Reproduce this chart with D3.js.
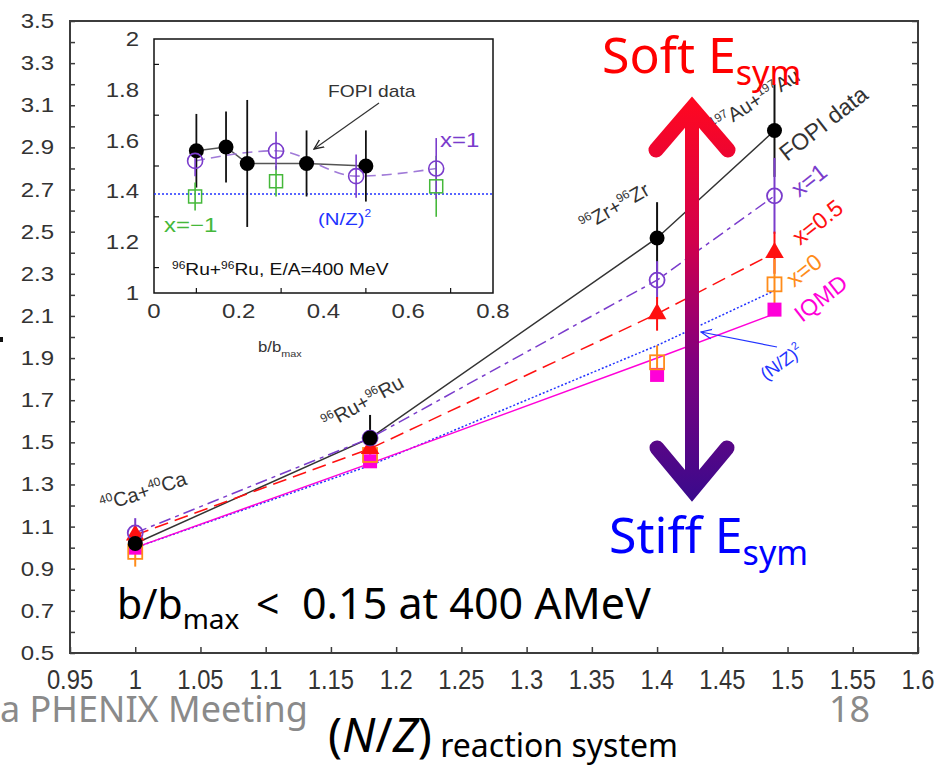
<!DOCTYPE html>
<html>
<head>
<meta charset="utf-8">
<script src="https://cdn.jsdelivr.net/npm/d3@7"></script>
<style>
  body { margin: 0; background: #fff; }
  svg { display: block; }
  text { font-family: "Liberation Sans", Arial, sans-serif; }
  .slide { font-family: "Noto Sans", "Open Sans", sans-serif; }
</style>
</head>
<body>
<script>
var svg, main, inset, x, y, ix, iy, defs, grad;

// main panel: four reaction systems
var systems = ['Ca', 'Ru', 'Zr', 'Au'];
var nzValues = [1.0, 1.18, 1.4, 1.49];
var fopiRatio = [1.02, 1.52, 2.47, 2.98];
var fopiErr = [0.02, 0.11, 0.17, 0.22];
var x1Ratio = [1.07, 1.52, 2.27, 2.67];
var x1Err = [0.07, 0.03, 0.09, 0.18];
var x05Ratio = [1.06, 1.47, 2.11, 2.40];
var x05Err = [0.03, 0.03, 0.08, 0.10];
var x0Ratio = [0.98, 1.44, 1.88, 2.25];
var x0Err = [0.07, 0.06, 0.08, 0.12];
var iqmdRatio = [1.00, 1.41, 1.82, 2.13];
var iqmdLine = [1.00, 1.40, 1.90, 2.11];
var nzSquared = [1.00, 1.39, 1.96, 2.22];

var yTicks = [0.5, 0.7, 0.9, 1.1, 1.3, 1.5, 1.7, 1.9, 2.1, 2.3, 2.5, 2.7, 2.9, 3.1, 3.3, 3.5];
var xTicks = [0.95, 1, 1.05, 1.1, 1.15, 1.2, 1.25, 1.3, 1.35, 1.4, 1.45, 1.5, 1.55, 1.6];

// inset: Ru+Ru vs b/bmax
var fopiB = [0.10, 0.17, 0.22, 0.36, 0.50];
var fopiBRatio = [1.56, 1.575, 1.51, 1.51, 1.50];
var fopiBErr = [0.145, 0.14, 0.25, 0.13, 0.14];
var x1B = [0.097, 0.288, 0.477, 0.666];
var x1BRatio = [1.52, 1.56, 1.46, 1.49];
var x1BErr = [0.06, 0.075, 0.085, 0.12];
var xm1B = [0.097, 0.288, 0.666];
var xm1BRatio = [1.38, 1.44, 1.42];
var xm1BErr = [0.055, 0.06, 0.12];
var nzSqInset = 1.39;
var insetYTicks = [1, 1.2, 1.4, 1.6, 1.8, 2];
var insetXTicks = [0, 0.2, 0.4, 0.6, 0.8];

var COLORS = {
  fopi: '#111',
  x1: '#7a3ccc',
  x05: '#ff1010',
  x0: '#ff8c1a',
  iqmd: '#ff00d8',
  nz: '#2233ff',
  xm1: '#45b83a'
};

function fmt(v) {
  return String(+v.toFixed(2));
}

function zip(xs, ys, es) {
  return xs.map(function(d, i) {
    return { x: d, y: ys[i], e: es ? es[i] : 0 };
  });
}

// text with sup (1) / sub (-1) parts
function rich(sel, parts, size, small, up, down) {
  var cur = 0;
  parts.forEach(function(p) {
    var mode = p[1] || 0;
    var target = mode === 1 ? -up : (mode === -1 ? down : 0);
    sel.append('tspan')
      .attr('dy', target - cur)
      .attr('font-size', mode ? small : size)
      .attr('font-style', p[2] || null)
      .text(p[0]);
    cur = target;
  });
  return sel;
}

svg = d3.select('body').append('svg')
  .attr('width', 936)
  .attr('height', 765);

svg.append('rect').attr('width', 936).attr('height', 765).attr('fill', '#fff');

defs = svg.append('defs');
grad = defs.append('linearGradient')
  .attr('id', 'arrowGrad')
  .attr('gradientUnits', 'userSpaceOnUse')
  .attr('x1', 0).attr('y1', 100)
  .attr('x2', 0).attr('y2', 500);
[['0', '#ff0820'], ['0.35', '#d2004c'], ['0.65', '#82007e'], ['1', '#3a0a8c']].forEach(function(s) {
  grad.append('stop').attr('offset', s[0]).attr('stop-color', s[1]);
});
defs.append('marker')
  .attr('id', 'arrBlack')
  .attr('viewBox', '0 0 10 10')
  .attr('refX', 9).attr('refY', 5)
  .attr('markerWidth', 9).attr('markerHeight', 9)
  .attr('orient', 'auto')
  .append('path').attr('d', 'M0,1 L9,5 L0,9').attr('fill', 'none').attr('stroke', '#222').attr('stroke-width', 1.2);
defs.append('marker')
  .attr('id', 'arrBlue')
  .attr('viewBox', '0 0 10 10')
  .attr('refX', 9).attr('refY', 5)
  .attr('markerWidth', 10).attr('markerHeight', 10)
  .attr('orient', 'auto')
  .append('path').attr('d', 'M0,1 L9,5 L0,9').attr('fill', 'none').attr('stroke', COLORS.nz).attr('stroke-width', 1);

x = d3.scaleLinear().domain([0.95, 1.6]).range([70, 918]);
y = d3.scaleLinear().domain([0.5, 3.5]).range([653, 21]);

main = svg.append('g').attr('class', 'main');

// frame
main.append('rect')
  .attr('x', x(0.95)).attr('y', y(3.5))
  .attr('width', x(1.6) - x(0.95)).attr('height', y(0.5) - y(3.5))
  .attr('fill', 'none').attr('stroke', '#3c3c3c').attr('stroke-width', 2);

// inward ticks
main.append('g')
  .attr('transform', 'translate(' + x(0.95) + ',0)')
  .call(d3.axisRight(y).ticks(30).tickSize(5).tickFormat(''))
  .call(function(g) { g.select('.domain').remove(); g.selectAll('line').attr('stroke', '#3c3c3c').attr('stroke-width', 1.5); });
main.append('g')
  .attr('transform', 'translate(' + x(1.6) + ',0)')
  .call(d3.axisLeft(y).ticks(30).tickSize(6).tickFormat(''))
  .call(function(g) { g.select('.domain').remove(); g.selectAll('line').attr('stroke', '#3c3c3c').attr('stroke-width', 1.5); });
main.append('g')
  .attr('transform', 'translate(0,' + y(0.5) + ')')
  .call(d3.axisTop(x).tickValues(xTicks).tickSize(6).tickFormat(''))
  .call(function(g) { g.select('.domain').remove(); g.selectAll('line').attr('stroke', '#3c3c3c').attr('stroke-width', 1.5); });

// tick labels
main.selectAll('.ylab')
  .data(yTicks)
  .enter().append('text')
  .attr('class', 'ylab')
  .attr('transform', function(d) { return 'translate(54,' + (y(d) + 7) + ') scale(1.2,1)'; })
  .attr('text-anchor', 'end')
  .attr('font-size', 20)
  .attr('fill', '#333')
  .text(fmt);

main.selectAll('.xlab')
  .data(xTicks)
  .enter().append('text')
  .attr('class', 'xlab')
  .attr('transform', function(d) { return 'translate(' + x(d) + ',689) scale(0.88,1)'; })
  .attr('text-anchor', 'middle')
  .attr('font-size', 27)
  .attr('fill', '#333')
  .text(fmt);

// series lines
var line = d3.line()
  .x(function(d) { return x(d.x); })
  .y(function(d) { return y(d.y); });

var lineSeries = [
  { vals: fopiRatio, color: '#333', dash: null, w: 1.5 },
  { vals: x1Ratio, color: COLORS.x1, dash: '12,5,4,5', w: 1.5 },
  { vals: x05Ratio, color: COLORS.x05, dash: '14,7', w: 1.5 },
  { vals: nzSquared, color: COLORS.nz, dash: '2,2', w: 1.5 },
  { vals: iqmdLine, color: COLORS.iqmd, dash: null, w: 1.5 }
];

main.selectAll('.series')
  .data(lineSeries)
  .enter().append('path')
  .attr('class', 'series')
  .attr('d', function(d) { return line(zip(nzValues, d.vals)); })
  .attr('fill', 'none')
  .attr('stroke', function(d) { return d.color; })
  .attr('stroke-width', function(d) { return d.w; })
  .attr('stroke-dasharray', function(d) { return d.dash; });

// error bars
function errBars(g, pts, sx, sy, color, w) {
  g.selectAll(null)
    .data(pts.filter(function(d) { return d.e > 0; }))
    .enter().append('line')
    .attr('x1', function(d) { return sx(d.x); })
    .attr('x2', function(d) { return sx(d.x); })
    .attr('y1', function(d) { return sy(d.y + d.e); })
    .attr('y2', function(d) { return sy(d.y - d.e); })
    .attr('stroke', color)
    .attr('stroke-width', w);
}

var fopiPts = zip(nzValues, fopiRatio, fopiErr);
var x1Pts = zip(nzValues, x1Ratio, x1Err);
var x05Pts = zip(nzValues, x05Ratio, x05Err);
var x0Pts = zip(nzValues, x0Ratio, x0Err);
var iqmdPts = zip(nzValues, iqmdRatio);

errBars(main, fopiPts, x, y, '#111', 2);
errBars(main, x1Pts, x, y, COLORS.x1, 2);
errBars(main, x05Pts, x, y, COLORS.x05, 2);
errBars(main, x0Pts, x, y, COLORS.x0, 2);

// markers
main.selectAll('.iqmd')
  .data(iqmdPts).enter().append('rect')
  .attr('x', function(d) { return x(d.x) - 7; })
  .attr('y', function(d) { return y(d.y) - 7; })
  .attr('width', 14).attr('height', 14)
  .attr('fill', COLORS.iqmd);
main.selectAll('.x0')
  .data(x0Pts).enter().append('rect')
  .attr('x', function(d) { return x(d.x) - 7; })
  .attr('y', function(d) { return y(d.y) - 7; })
  .attr('width', 14).attr('height', 14)
  .attr('fill', 'none').attr('stroke', COLORS.x0).attr('stroke-width', 1.8);
main.selectAll('.x05')
  .data(x05Pts).enter().append('path')
  .attr('transform', function(d) { return 'translate(' + x(d.x) + ',' + y(d.y) + ')'; })
  .attr('d', d3.symbol().type(d3.symbolTriangle).size(150))
  .attr('fill', COLORS.x05);
main.selectAll('.x1')
  .data(x1Pts).enter().append('circle')
  .attr('cx', function(d) { return x(d.x); })
  .attr('cy', function(d) { return y(d.y); })
  .attr('r', 7.5)
  .attr('fill', 'none').attr('stroke', COLORS.x1).attr('stroke-width', 1.8);
main.selectAll('.fopi')
  .data(fopiPts).enter().append('circle')
  .attr('cx', function(d) { return x(d.x); })
  .attr('cy', function(d) { return y(d.y); })
  .attr('r', 7.5)
  .attr('fill', '#000');

// reaction system labels
var reacLabels = [
  { at: [103, 512], rot: -18, parts: [['40', 1], ['Ca+'], ['40', 1], ['Ca']] },
  { at: [327, 430], rot: -29, parts: [['96', 1], ['Ru+'], ['96', 1], ['Ru']] },
  { at: [585, 232], rot: -30, parts: [['96', 1], ['Zr+'], ['96', 1], ['Zr']] },
  { at: [716, 133], rot: -32, parts: [['197', 1], ['Au+'], ['197', 1], ['Au']] }
];
reacLabels.forEach(function(l) {
  rich(main.append('text')
    .attr('transform', 'translate(' + l.at[0] + ',' + l.at[1] + ') rotate(' + l.rot + ')')
    .attr('fill', '#333'), l.parts, 20, 12, 8, 0);
});

// series labels on the right
var sideLabels = [
  { text: 'FOPI data', at: [787, 162], color: '#333', size: 23 },
  { text: 'x=1', at: [799, 198], color: COLORS.x1, size: 23 },
  { text: 'x=0.5', at: [800, 246], color: COLORS.x05, size: 23 },
  { text: 'x=0', at: [794, 288], color: COLORS.x0, size: 23 },
  { text: 'IQMD', at: [802, 323], color: COLORS.iqmd, size: 23 }
];
sideLabels.forEach(function(l) {
  main.append('text')
    .attr('transform', 'translate(' + l.at[0] + ',' + l.at[1] + ') rotate(-38)')
    .attr('fill', l.color)
    .attr('font-size', l.size)
    .text(l.text);
});
rich(main.append('text')
  .attr('transform', 'translate(766,381) rotate(-36)')
  .attr('fill', COLORS.nz), [['(N/Z)'], ['2', 1]], 18, 11, 8, 0);
main.append('line')
  .attr('x1', 777).attr('y1', 347).attr('x2', 701).attr('y2', 332)
  .attr('stroke', COLORS.nz).attr('stroke-width', 1.2)
  .attr('marker-end', 'url(#arrBlue)');

// big soft/stiff arrow
var arrow = svg.append('g').attr('class', 'arrow')
  .attr('stroke', 'url(#arrowGrad)').attr('fill', 'none');
arrow.append('line')
  .attr('x1', 692).attr('y1', 116).attr('x2', 692).attr('y2', 484)
  .attr('stroke-width', 14);
arrow.append('path')
  .attr('d', 'M656,150 L692,108 L728,150')
  .attr('stroke-width', 15).attr('stroke-linecap', 'round').attr('stroke-linejoin', 'miter');
arrow.append('path')
  .attr('d', 'M657,448 L692,490 L727,448')
  .attr('stroke-width', 15).attr('stroke-linecap', 'round').attr('stroke-linejoin', 'miter');

rich(svg.append('text').attr('class', 'slide')
  .attr('x', 602).attr('y', 73).attr('fill', '#ff0000'),
  [['Soft E'], ['sym', -1]], 50, 34, 0, 12);
rich(svg.append('text').attr('class', 'slide')
  .attr('x', 609).attr('y', 553).attr('fill', '#0000ff'),
  [['Stiff E'], ['sym', -1]], 50, 34, 0, 12);

// b/bmax condition, pieces placed at their own x
var cond = svg.append('text').attr('class', 'slide').attr('y', 619).attr('fill', '#000');
cond.append('tspan').attr('x', 117).attr('font-size', 41).text('b/b');
cond.append('tspan').attr('dy', 10).attr('font-size', 28).text('max');
cond.append('tspan').attr('x', 256).attr('dy', -10).attr('font-size', 41).text('<');
cond.append('tspan').attr('x', 302).attr('font-size', 43).text('0.15 at 400 AMeV');

// footer
svg.append('text').attr('class', 'slide')
  .attr('x', 0).attr('y', 722)
  .attr('font-size', 36).attr('fill', '#8a8a8a')
  .text('a PHENIX Meeting');
svg.append('text').attr('class', 'slide')
  .attr('x', 829).attr('y', 722)
  .attr('font-size', 36).attr('fill', '#8a8a8a')
  .text('18');
rich(svg.append('text').attr('class', 'slide')
  .attr('x', 328).attr('y', 752).attr('fill', '#000'),
  [['('], ['N', 0, 'italic'], ['/'], ['Z', 0, 'italic'], [')'], [' reaction system', -1]], 47, 32, 0, 5);

// clipped y-title remnant
svg.append('rect').attr('x', 0).attr('y', 337).attr('width', 3).attr('height', 5).attr('fill', '#111');

// ---------- inset ----------
ix = d3.scaleLinear().domain([0, 0.8]).range([154, 493]);
iy = d3.scaleLinear().domain([1, 2]).range([293, 39]);
inset = svg.append('g').attr('class', 'inset');

inset.append('rect')
  .attr('x', ix(0)).attr('y', iy(2))
  .attr('width', ix(0.8) - ix(0)).attr('height', iy(1) - iy(2))
  .attr('fill', 'none').attr('stroke', '#111').attr('stroke-width', 1.5);

inset.selectAll('.iyt')
  .data([1.1, 1.3, 1.5, 1.7, 1.9]).enter().append('line')
  .attr('x1', ix(0)).attr('x2', ix(0) + 5)
  .attr('y1', iy).attr('y2', iy)
  .attr('stroke', '#111').attr('stroke-width', 1.2);
inset.selectAll('.ixt')
  .data([0.1, 0.3, 0.5, 0.7]).enter().append('line')
  .attr('x1', ix).attr('x2', ix)
  .attr('y1', iy(1)).attr('y2', iy(1) - 5)
  .attr('stroke', '#111').attr('stroke-width', 1.2);

inset.selectAll('.iylab')
  .data(insetYTicks).enter().append('text')
  .attr('transform', function(d) { return 'translate(139,' + (iy(d) + 7) + ') scale(1.2,1)'; })
  .attr('text-anchor', 'end')
  .attr('font-size', 20)
  .attr('fill', '#333')
  .text(fmt);
inset.selectAll('.ixlab')
  .data(insetXTicks).enter().append('text')
  .attr('transform', function(d) { return 'translate(' + ix(d) + ',318) scale(1.2,1)'; })
  .attr('text-anchor', 'middle')
  .attr('font-size', 20)
  .attr('fill', '#333')
  .text(fmt);

// (N/Z)^2 level
inset.append('line')
  .attr('x1', ix(0)).attr('x2', ix(0.8))
  .attr('y1', iy(nzSqInset)).attr('y2', iy(nzSqInset))
  .attr('stroke', COLORS.nz).attr('stroke-width', 1.5).attr('stroke-dasharray', '2,2');

var fopiBPts = zip(fopiB, fopiBRatio, fopiBErr);
var x1BPts = zip(x1B, x1BRatio, x1BErr);
var xm1BPts = zip(xm1B, xm1BRatio, xm1BErr);

var iline = d3.line()
  .x(function(d) { return ix(d.x); })
  .y(function(d) { return iy(d.y); });

inset.append('path')
  .attr('d', iline(fopiBPts))
  .attr('fill', 'none').attr('stroke', '#555').attr('stroke-width', 1.5);
inset.append('path')
  .attr('d', iline.curve(d3.curveMonotoneX)(x1BPts))
  .attr('fill', 'none').attr('stroke', '#a07ad8').attr('stroke-width', 1.6)
  .attr('stroke-dasharray', '10,6');

errBars(inset, fopiBPts, ix, iy, '#111', 1.8);
errBars(inset, xm1BPts, ix, iy, COLORS.xm1, 1.6);
errBars(inset, x1BPts, ix, iy, COLORS.x1, 1.6);

inset.selectAll('.xm1')
  .data(xm1BPts).enter().append('rect')
  .attr('x', function(d) { return ix(d.x) - 6.5; })
  .attr('y', function(d) { return iy(d.y) - 6.5; })
  .attr('width', 13).attr('height', 13)
  .attr('fill', 'none').attr('stroke', COLORS.xm1).attr('stroke-width', 1.5);
inset.selectAll('.fopiB')
  .data(fopiBPts).enter().append('circle')
  .attr('cx', function(d) { return ix(d.x); })
  .attr('cy', function(d) { return iy(d.y); })
  .attr('r', 7.5).attr('fill', '#000');
inset.selectAll('.x1B')
  .data(x1BPts).enter().append('circle')
  .attr('cx', function(d) { return ix(d.x); })
  .attr('cy', function(d) { return iy(d.y); })
  .attr('r', 7.5)
  .attr('fill', 'none').attr('stroke', COLORS.x1).attr('stroke-width', 1.6);

// inset annotations, stretched like the source figure
function stretched(at, color) {
  return inset.append('text')
    .attr('transform', 'translate(' + at[0] + ',' + at[1] + ') scale(1.2,1)')
    .attr('fill', color);
}
stretched([328, 97], '#333').attr('font-size', 16).text('FOPI data');
inset.append('line')
  .attr('x1', 379).attr('y1', 103).attr('x2', 314).attr('y2', 149)
  .attr('stroke', '#333').attr('stroke-width', 1.2)
  .attr('marker-end', 'url(#arrBlack)');
stretched([440, 147], COLORS.x1).attr('font-size', 20).text('x=1');
stretched([164, 232], COLORS.xm1).attr('font-size', 20).text('x=\u22121');
rich(stretched([318, 225], COLORS.nz), [['(N/Z)'], ['2', 1]], 17, 10, 8, 0);
rich(stretched([172, 275], '#111'), [['96', 1], ['Ru+'], ['96', 1], ['Ru, E/A=400 MeV']], 16, 10, 6, 0);
rich(stretched([258, 352], '#333'), [['b/b'], ['max', -1]], 14, 9, 0, 5);
</script>
</body>
</html>
